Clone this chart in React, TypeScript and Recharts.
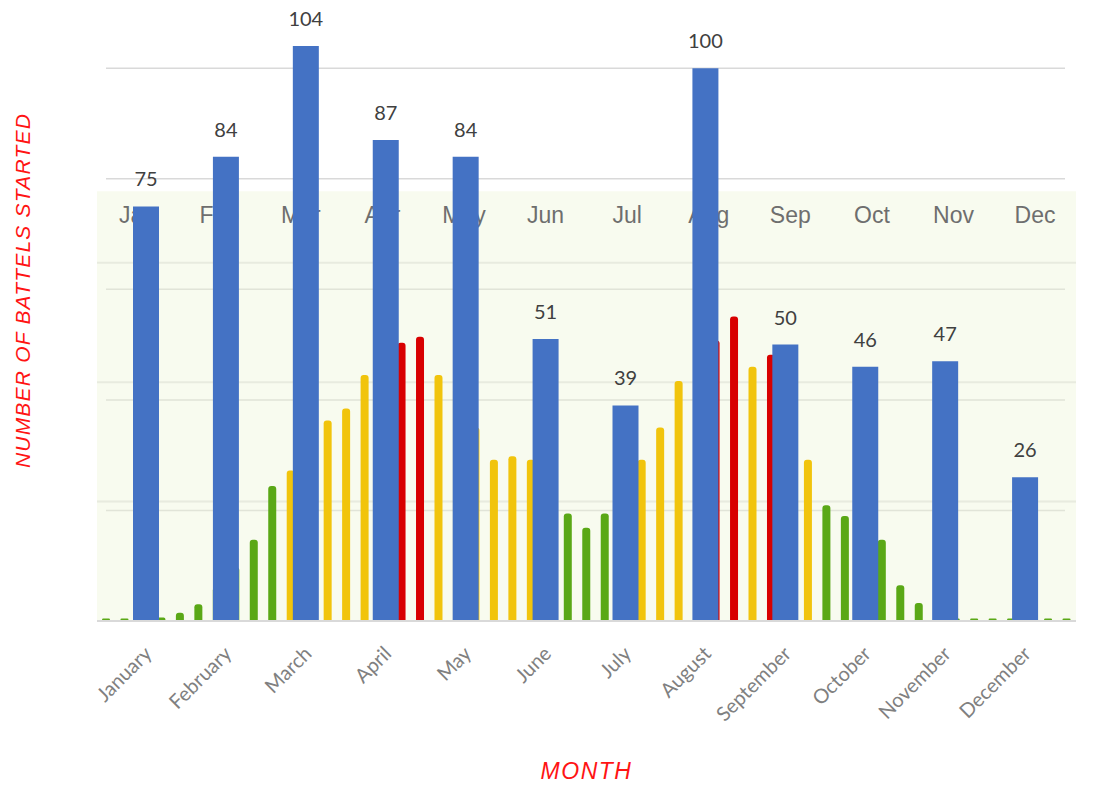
import {
  ComposedChart,
  Bar,
  XAxis,
  YAxis,
  CartesianGrid,
  ReferenceArea,
  LabelList,
  Label,
  Cell,
} from "recharts";

const months = [
  "January", "February", "March", "April", "May", "June",
  "July", "August", "September", "October", "November", "December",
];
const monthAbbr = ["Jan", "Feb", "Mar", "Apr", "May", "Jun", "Jul", "Aug", "Sep", "Oct", "Nov", "Dec"];
const battles = [75, 84, 104, 87, 84, 51, 39, 100, 50, 46, 47, 26];
const battleTicks = [0, 20, 40, 60, 80, 100];

// background weekly series (53 weeks), coloured by level
const weeklyLevel = [
  0.2, 0.2, 0.3, 0.3, 0.7, 1.4, 2.8, 4.5, 6.8, 11.3,
  12.6, 14.5, 16.8, 17.8, 20.6, 21.5, 23.3, 23.8, 20.6, 19.5,
  16.2, 13.5, 13.8, 13.5, 11.0, 9.0, 7.8, 9.0, 11.5, 13.5,
  16.2, 20.1, 22.0, 23.5, 25.5, 21.3, 22.3, 17.5, 13.5, 9.7,
  8.8, 8.0, 6.8, 3.0, 1.5, 0.8, 0.2, 0.2, 0.2, 0.2,
  0.2, 0.2, 0.2,
];
const levelTicks = [0, 10, 20, 30];

const monthData = months.map((m, i) => ({ month: m, abbr: monthAbbr[i], battles: battles[i] }));
const weekData = weeklyLevel.map((v, i) => ({ week: i + 1, level: v }));

const W = 1112;
const H = 785;
const MARGIN_TOP = 24;
const MARGIN_RIGHT = 36;
const LEFT = 97;
const BOTTOM = 164;
const plotMargin = { top: MARGIN_TOP, right: MARGIN_RIGHT, bottom: BOTTOM, left: LEFT };
// the battles gridlines stop a little inside the plot
const gridMargin = { top: MARGIN_TOP, right: MARGIN_RIGHT + 11, bottom: BOTTOM, left: LEFT + 9 };

const titleFont = "'Liberation Sans Narrow', 'Liberation Sans', Arial, sans-serif";

function levelColor(v: number) {
  if (v >= 22) return "#d80000";
  if (v >= 12) return "#f1c40c";
  return "#5aa816";
}

const MonthTick = ({ x, y, payload }: any) => (
  <text
    x={0}
    y={0}
    transform={`translate(${x + 7},${y + 26}) rotate(-45)`}
    textAnchor="end"
    fontSize={20}
    fill="#808080"
    fontFamily="Lato, 'Open Sans', sans-serif"
  >
    {payload.value}
  </text>
);

const StripText = (props: any) => {
  const { x, width } = props;
  const abbr = props.payload?.abbr ?? props.abbr;
  return (
    <text
      x={x + width / 2}
      y={223}
      textAnchor="middle"
      fontSize={23}
      fill="#6e6e6e"
      fontFamily="'Liberation Sans', Arial, sans-serif"
    >
      {abbr}
    </text>
  );
};

const YTitle = ({ viewBox }: any) => {
  const cx = viewBox.x + 22;
  const cy = viewBox.y + viewBox.height / 2 - 32;
  return (
    <text
      x={cx}
      y={cy}
      transform={`rotate(-90, ${cx}, ${cy})`}
      textAnchor="middle"
      dominantBaseline="central"
      fill="#ff1414"
      fontStyle="italic"
      fontSize={21}
      letterSpacing={1.2}
      fontFamily={titleFont}
    >
      NUMBER OF BATTELS STARTED
    </text>
  );
};

const layer: React.CSSProperties = { position: "absolute", left: 0, top: 0 };

export default function App() {
  return (
    <div style={{ position: "absolute", left: 0, top: 0, width: W, height: H, background: "#fff" }}>
      {/* gridlines of the battles scale (invisible bar gives the axis a series) */}
      <div style={layer}>
        <ComposedChart width={W} height={H} data={monthData} margin={gridMargin}>
          <XAxis dataKey="month" hide />
          <YAxis hide domain={[0, 108]} ticks={battleTicks} />
          <CartesianGrid
            vertical={false}
            horizontalValues={battleTicks}
            stroke="#d9d9d9"
            strokeWidth={1.5}
          />
          <Bar dataKey="battles" fill="none" isAnimationActive={false} />
        </ComposedChart>
      </div>

      {/* background weekly chart */}
      <div style={layer}>
        <ComposedChart width={W} height={H} data={weekData} margin={plotMargin}>
          <XAxis dataKey="week" hide />
          <YAxis hide domain={[0, 50]} ticks={levelTicks} />
          <ReferenceArea y1={0} y2={36} fill="#eef6d6" fillOpacity={0.4} stroke="none" />
          <CartesianGrid
            vertical={false}
            horizontalValues={levelTicks}
            stroke="#e4e4e4"
            strokeWidth={2}
          />
          <Bar dataKey="level" barSize={8} radius={[3, 3, 0, 0]} isAnimationActive={false}>
            {weekData.map((d, i) => (
              <Cell key={i} fill={levelColor(d.level)} />
            ))}
          </Bar>
        </ComposedChart>
      </div>

      {/* battles per month */}
      <div style={layer}>
        <ComposedChart
          width={W}
          height={H}
          data={monthData}
          margin={{ top: MARGIN_TOP, right: MARGIN_RIGHT, bottom: 0, left: 0 }}
        >
          <XAxis
            dataKey="month"
            height={BOTTOM}
            interval={0}
            padding={{ left: 9, right: 11 }}
            tickLine={false}
            axisLine={{ stroke: "#d9d9d9", strokeWidth: 2 }}
            tick={<MonthTick />}
          >
            <Label
              value="MONTH"
              position="insideBottom"
              offset={6}
              fill="#ff1414"
              fontStyle="italic"
              fontSize={23}
              letterSpacing={1.5}
              fontFamily={titleFont}
            />
          </XAxis>
          <XAxis xAxisId="strip" dataKey="abbr" hide />
          <YAxis
            width={LEFT}
            domain={[0, 108]}
            ticks={battleTicks}
            tick={false}
            tickLine={false}
            axisLine={false}
          >
            <Label content={<YTitle />} />
          </YAxis>
          <Bar xAxisId="strip" dataKey="battles" shape={<StripText />} isAnimationActive={false} />
          <Bar dataKey="battles" fill="#4472c4" barSize={26} isAnimationActive={false}>
            <LabelList
              dataKey="battles"
              position="top"
              offset={20}
              fill="#404040"
              fontSize={20}
              fontFamily="Lato, 'Open Sans', sans-serif"
            />
          </Bar>
        </ComposedChart>
      </div>
    </div>
  );
}
